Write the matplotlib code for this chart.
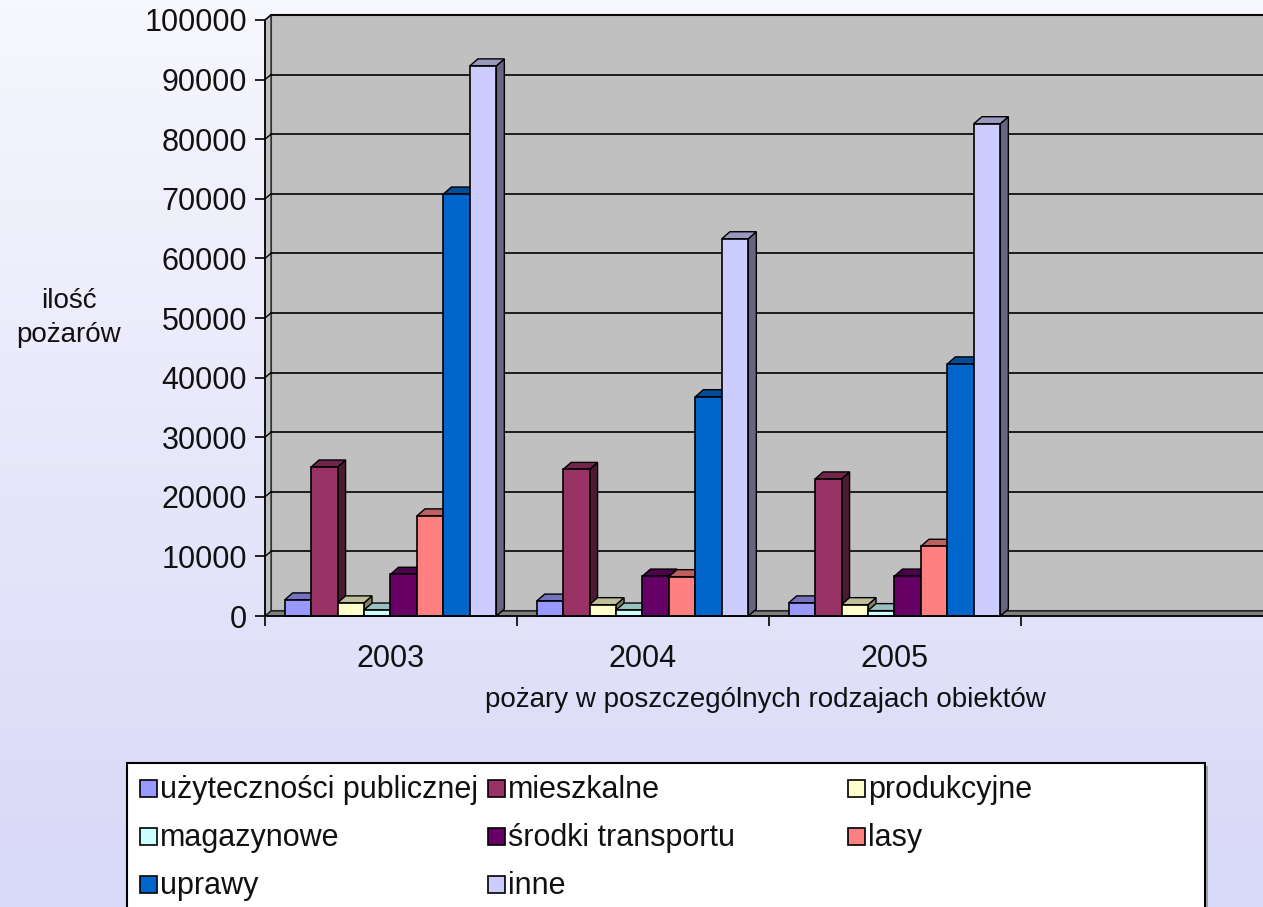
import numpy as np
import matplotlib
matplotlib.use("Agg")
import matplotlib.pyplot as plt
from matplotlib.patches import Rectangle, Polygon
from matplotlib.colors import to_rgb

plt.rcParams['font.family'] = ['Liberation Sans', 'DejaVu Sans']

years = ["2003", "2004", "2005", ""]
series = ["użyteczności publicznej", "mieszkalne", "produkcyjne", "magazynowe",
          "środki transportu", "lasy", "uprawy", "inne"]
colors = ["#9999FF", "#993366", "#FFFFCC", "#CCFFFF",
          "#660066", "#FF8080", "#0066CC", "#CCCCFF"]

uzytecznosci = [2700, 2500, 2200]
mieszkalne = [25000, 24600, 23000]
produkcyjne = [2200, 1900, 1900]
magazynowe = [1000, 1000, 900]
transport = [7000, 6700, 6700]
lasy = [16800, 6600, 11700]
uprawy = [70800, 36800, 42300]
inne = [92300, 63300, 82600]
values = [uzytecznosci, mieszkalne, produkcyjne, magazynowe, transport, lasy, uprawy, inne]

W, H = 1263, 907
fig = plt.figure(figsize=(W / 100, H / 100), dpi=100)

# background gradient
bg = fig.add_axes([0, 0, 1, 1], zorder=-10)
grad = np.linspace(0, 1, 256)[:, None]
c_top = np.array(to_rgb("#F7F7FE"))
c_bot = np.array(to_rgb("#D8D8F8"))
img = c_top[None, None, :] * (1 - grad[:, :, None]) + c_bot[None, None, :] * grad[:, :, None]
bg.imshow(img, aspect="auto", extent=[0, 1, 0, 1])
bg.axis("off")

# main axes: x 0..4 categories, y 0..100000
x0, x1 = 265, 1273
y0, y1 = 616, 20
ax = fig.add_axes([x0 / W, 1 - y0 / H, (x1 - x0) / W, (y0 - y1) / H])
ax.set_xlim(0, 4)
ax.set_ylim(0, 100000)
ax.patch.set_alpha(0)
for s in ["top", "right"]:
    ax.spines[s].set_visible(False)
ax.spines["left"].set_linewidth(1.2)
ax.spines["bottom"].set_visible(False)

px_x = 4 / (x1 - x0)
px_y = 100000 / (y0 - y1)
wdx, wdy = 6 * px_x, 5 * px_y   # wall depth
bdx, bdy = 8 * px_x, 7 * px_y   # bar depth

# back wall, left wall, floor
ax.add_patch(Rectangle((wdx, wdy), 4, 100000, facecolor="#C0C0C0",
                       edgecolor="#333333", lw=1.5, clip_on=False, zorder=1))
ax.add_patch(Polygon([(0, 0), (wdx, wdy), (wdx, 100000 + wdy), (0, 100000)],
                     closed=True, facecolor="#C0C0C0", edgecolor="#333333", lw=1, clip_on=False, zorder=1))
ax.add_patch(Polygon([(0, 0), (4.2, 0), (4.2 + wdx, wdy), (wdx, wdy)],
                     closed=True, facecolor="#808080", edgecolor="#222222", lw=1, clip_on=False, zorder=1))
for yv in range(10000, 100001, 10000):
    ax.plot([wdx, 4.2], [yv + wdy, yv + wdy], color="black", lw=1.2, zorder=2, clip_on=False)
    ax.plot([0, wdx], [yv, yv + wdy], color="black", lw=1.0, zorder=2, clip_on=False)

# bars
bw = 0.105
start = 0.078
for gi in range(3):
    for si, (vals, col) in enumerate(zip(values, colors)):
        v = vals[gi]
        left = gi + start + si * bw
        c = np.array(to_rgb(col))
        side = c * 0.5
        top = c * 0.75
        ax.add_patch(Polygon([(left + bw, 0), (left + bw + bdx, bdy), (left + bw + bdx, v + bdy), (left + bw, v)],
                             closed=True, facecolor=side, edgecolor="black", lw=1, zorder=3 + si, clip_on=False))
        ax.add_patch(Polygon([(left, v), (left + bdx, v + bdy), (left + bw + bdx, v + bdy), (left + bw, v)],
                             closed=True, facecolor=top, edgecolor="black", lw=1, zorder=3 + si, clip_on=False))
        ax.add_patch(Rectangle((left, 0), bw, v, facecolor=c, edgecolor="black", lw=1.2,
                               zorder=3 + si, clip_on=False))

# front base line
ax.plot([0, 4.2], [0, 0], color="black", lw=1.2, zorder=20, clip_on=False)

ax.set_yticks(range(0, 100001, 10000))
ax.tick_params(axis="y", direction="out", length=7, width=1.2, labelsize=22, pad=6, labelcolor="#111111")
ax.set_xticks([0, 1, 2, 3, 4])
ax.set_xticklabels([])
ax.tick_params(axis="x", which="major", direction="out", length=7, width=1.2)
ax.set_xticks([0.5, 1.5, 2.5, 3.5], minor=True)
ax.set_xticklabels(years, minor=True)
ax.tick_params(axis="x", which="minor", length=0, labelsize=22, pad=20, labelcolor="#111111")

# axis titles
fig.text(69 / W, 1 - 318 / H, "ilość\npożarów", ha="center", va="center",
         fontsize=20, linespacing=1.4, color="#111111")
fig.text(765 / W, 1 - 700 / H, "pożary w poszczególnych rodzajach obiektów", ha="center", va="center",
         fontsize=20, color="#111111")

# legend box
lx0, lx1, ly0 = 127, 1205, 763
fig.patches.append(Rectangle(((lx0 + 3) / W, 0), (lx1 - lx0) / W, 1 - (ly0 + 3) / H,
                             transform=fig.transFigure, facecolor="#A0A0A0", edgecolor="none", zorder=5))
fig.patches.append(Rectangle((lx0 / W, -0.01), (lx1 - lx0) / W, 1 - ly0 / H + 0.01,
                             transform=fig.transFigure, facecolor="white", edgecolor="black", lw=1.5, zorder=6))
col_x = [140, 488, 848]
row_y = [788, 836, 884]
for i, (name, col) in enumerate(zip(series, colors)):
    cx = col_x[i % 3]
    ry = row_y[i // 3]
    fig.patches.append(Rectangle((cx / W, 1 - (ry + 9) / H), 17 / W, 17 / H, transform=fig.transFigure,
                                 facecolor=col, edgecolor="black", lw=1.2, zorder=7))
    fig.text((cx + 20) / W, 1 - (ry + 2) / H, name, ha="left", va="center", fontsize=22,
             color="#111111", zorder=8)

fig.savefig("out.png", dpi=100)
